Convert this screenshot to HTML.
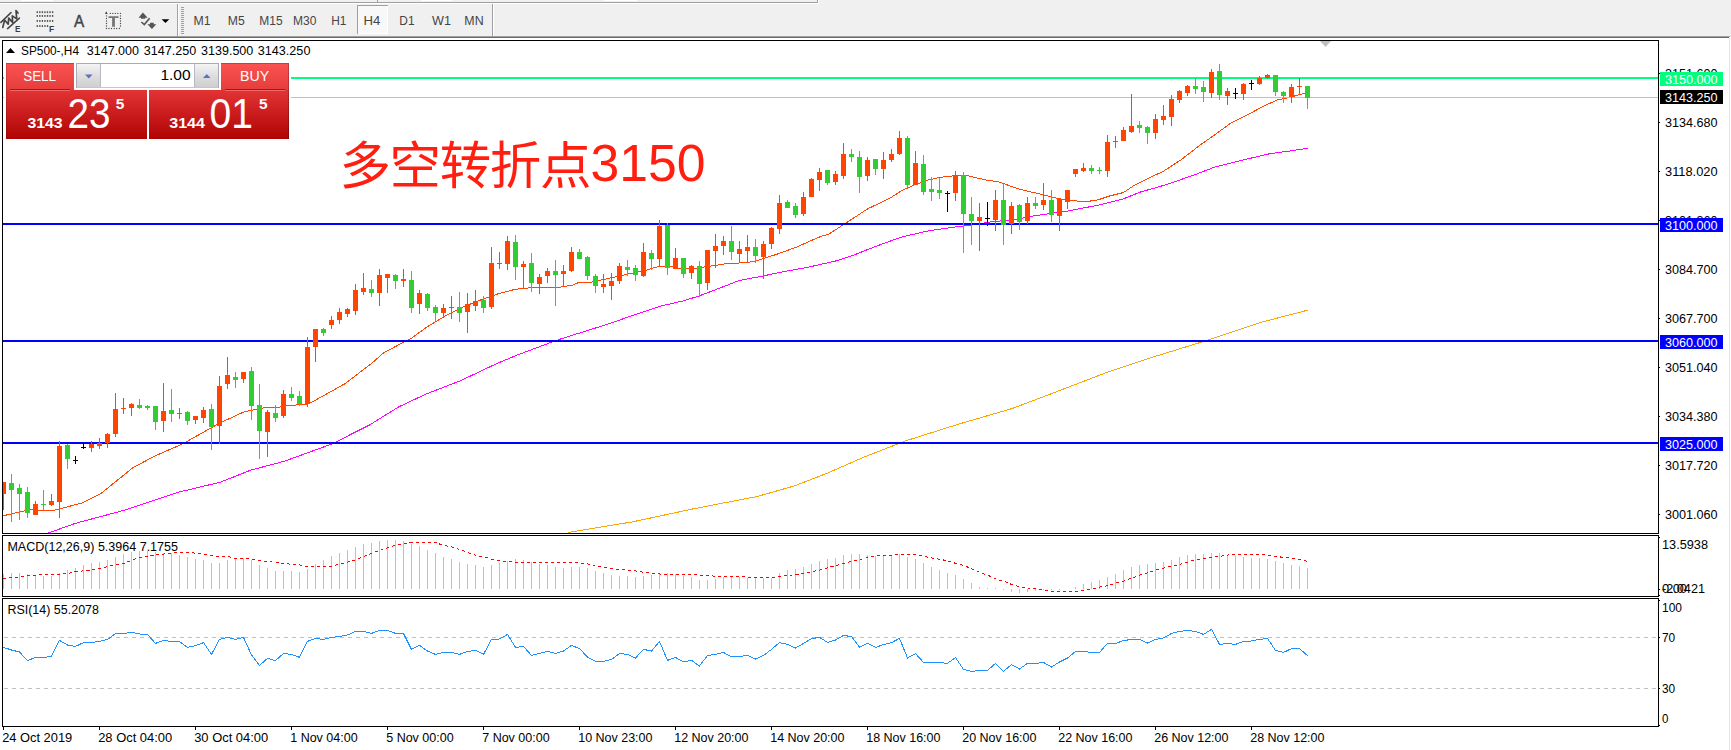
<!DOCTYPE html>
<html lang="zh"><head><meta charset="utf-8"><title>SP500-,H4</title>
<style>
html,body{margin:0;padding:0;background:#fff;}
body{width:1731px;height:750px;overflow:hidden;font-family:'Liberation Sans', sans-serif;}
svg{display:block;position:absolute;left:0;top:0;}
.t{font-family:'Liberation Sans', sans-serif;font-size:12.3px;fill:#000;}
.tb{font-family:'Liberation Sans', sans-serif;font-size:12px;fill:#454545;}
.ce{shape-rendering:crispEdges;}
</style></head><body>
<svg width="1731" height="750" viewBox="0 0 1731 750">
<defs>
<linearGradient id="gtab" x1="0" y1="0" x2="0" y2="1"><stop offset="0" stop-color="#fb5353"/><stop offset="1" stop-color="#e53b3b"/></linearGradient>
<linearGradient id="gbig" x1="0" y1="0" x2="0" y2="1"><stop offset="0" stop-color="#e23434"/><stop offset="1" stop-color="#b00303"/></linearGradient>
<linearGradient id="gspin" x1="0" y1="0" x2="0" y2="1"><stop offset="0" stop-color="#f4f4f4"/><stop offset="0.5" stop-color="#dedede"/><stop offset="1" stop-color="#cfcfcf"/></linearGradient>
</defs>
<rect x="0" y="0" width="1731" height="750" fill="#ffffff"/>

<g class="ce">
<rect x="0" y="0" width="1731" height="36" fill="#f0f0f0"/>
<rect x="0" y="36" width="1730" height="1" fill="#a0a0a0"/>
<rect x="0" y="37" width="1729" height="1" fill="#696969"/>
<rect x="1730" y="36" width="1" height="2" fill="#f0f0f0"/>
<rect x="1729" y="38" width="1" height="712" fill="#e3e3e3"/>
<rect x="21" y="0" width="32" height="1" fill="#ffffff"/>
<rect x="421" y="0" width="31" height="1" fill="#ffffff"/>
<rect x="604" y="0" width="33" height="1" fill="#ffffff"/>
<rect x="377" y="0" width="1" height="2" fill="#a0a0a0"/>
<rect x="0" y="2" width="818" height="1" fill="#a0a0a0"/>
<rect x="817" y="0" width="1" height="3" fill="#a0a0a0"/>
<rect x="0" y="3" width="819" height="1" fill="#ffffff"/>
<rect x="818" y="0" width="1" height="4" fill="#ffffff"/>
<rect x="177" y="4" width="1" height="32" fill="#a0a0a0"/><rect x="178" y="4" width="1" height="32" fill="#ffffff"/>
<rect x="492" y="4" width="1" height="32" fill="#a0a0a0"/><rect x="493" y="4" width="1" height="32" fill="#ffffff"/>
<rect x="181" y="7" width="3" height="1" fill="#a0a0a0"/>
<rect x="181" y="9" width="3" height="1" fill="#a0a0a0"/>
<rect x="181" y="11" width="3" height="1" fill="#a0a0a0"/>
<rect x="181" y="13" width="3" height="1" fill="#a0a0a0"/>
<rect x="181" y="15" width="3" height="1" fill="#a0a0a0"/>
<rect x="181" y="17" width="3" height="1" fill="#a0a0a0"/>
<rect x="181" y="19" width="3" height="1" fill="#a0a0a0"/>
<rect x="181" y="21" width="3" height="1" fill="#a0a0a0"/>
<rect x="181" y="23" width="3" height="1" fill="#a0a0a0"/>
<rect x="181" y="25" width="3" height="1" fill="#a0a0a0"/>
<rect x="181" y="27" width="3" height="1" fill="#a0a0a0"/>
<rect x="181" y="29" width="3" height="1" fill="#a0a0a0"/>
<rect x="181" y="31" width="3" height="1" fill="#a0a0a0"/>
<rect x="181" y="33" width="3" height="1" fill="#a0a0a0"/>
<rect x="357" y="5" width="31" height="29" fill="#f8f8f8"/>
<rect x="357" y="5" width="31" height="1" fill="#a0a0a0"/><rect x="357" y="5" width="1" height="29" fill="#a0a0a0"/>
<rect x="387" y="6" width="1" height="28" fill="#ffffff"/><rect x="358" y="33" width="30" height="1" fill="#ffffff"/>
</g>
<g fill="none" stroke="#454545" stroke-width="1.5" stroke-linecap="round" stroke-linejoin="round">
<path d="M0.9 22.4 L11 12.6"/><path d="M7.6 28.6 L19.4 18.1"/>
<path d="M2.8 27.4 L4.6 20 L8.2 24.2 L8.7 18.1 L12.6 22.4 L12.3 15.9 L16.7 18.9 L16 10.5 L18 13" stroke-width="1.7"/>
</g>
<text x="15.1" y="31.7" style="font-family:'Liberation Sans', sans-serif;font-size:9.6px;font-weight:bold" fill="#3c3c3c" textLength="5.4" lengthAdjust="spacingAndGlyphs">E</text>
<g fill="#555555">
<rect x="36.60" y="11.2" width="1.35" height="1.9"/>
<rect x="39.16" y="11.2" width="1.35" height="1.9"/>
<rect x="41.72" y="11.2" width="1.35" height="1.9"/>
<rect x="44.28" y="11.2" width="1.35" height="1.9"/>
<rect x="46.84" y="11.2" width="1.35" height="1.9"/>
<rect x="49.40" y="11.2" width="1.35" height="1.9"/>
<rect x="51.96" y="11.2" width="1.35" height="1.9"/>
<rect x="36.60" y="15" width="1.35" height="1.9"/>
<rect x="39.16" y="15" width="1.35" height="1.9"/>
<rect x="41.72" y="15" width="1.35" height="1.9"/>
<rect x="44.28" y="15" width="1.35" height="1.9"/>
<rect x="46.84" y="15" width="1.35" height="1.9"/>
<rect x="49.40" y="15" width="1.35" height="1.9"/>
<rect x="51.96" y="15" width="1.35" height="1.9"/>
<rect x="36.60" y="20" width="1.35" height="1.9"/>
<rect x="39.16" y="20" width="1.35" height="1.9"/>
<rect x="41.72" y="20" width="1.35" height="1.9"/>
<rect x="44.28" y="20" width="1.35" height="1.9"/>
<rect x="46.84" y="20" width="1.35" height="1.9"/>
<rect x="49.40" y="20" width="1.35" height="1.9"/>
<rect x="51.96" y="20" width="1.35" height="1.9"/>
<rect x="36.60" y="25.1" width="1.35" height="1.9"/>
<rect x="39.16" y="25.1" width="1.35" height="1.9"/>
<rect x="41.72" y="25.1" width="1.35" height="1.9"/>
<rect x="44.28" y="25.1" width="1.35" height="1.9"/>
<rect x="46.84" y="25.1" width="1.35" height="1.9"/>
</g>
<text x="49.1" y="31.7" style="font-family:'Liberation Sans', sans-serif;font-size:9.6px;font-weight:bold" fill="#3c3c3c" textLength="5.2" lengthAdjust="spacingAndGlyphs">F</text>
<text x="79" y="26.7" text-anchor="middle" style="font-family:'Liberation Sans', sans-serif;font-size:16.2px;font-weight:normal" fill="#444" stroke="#444" stroke-width="0.45" textLength="10.2" lengthAdjust="spacingAndGlyphs">A</text>
<g fill="#4a4a4a">
<circle cx="110.3" cy="13.4" r="0.66"/>
<circle cx="112.8" cy="13.4" r="0.66"/>
<circle cx="115.3" cy="13.4" r="0.66"/>
<circle cx="117.8" cy="13.4" r="0.66"/>
<circle cx="120.5" cy="13.4" r="0.66"/>
<circle cx="106.5" cy="28.5" r="0.66"/>
<circle cx="109" cy="28.5" r="0.66"/>
<circle cx="111.5" cy="28.5" r="0.66"/>
<circle cx="114.2" cy="28.5" r="0.66"/>
<circle cx="116.7" cy="28.5" r="0.66"/>
<circle cx="119.4" cy="28.5" r="0.66"/>
<circle cx="106.5" cy="15.9" r="0.66"/>
<circle cx="120.5" cy="15.9" r="0.66"/>
<circle cx="106.5" cy="18.5" r="0.66"/>
<circle cx="120.5" cy="18.5" r="0.66"/>
<circle cx="106.5" cy="21" r="0.66"/>
<circle cx="120.5" cy="21" r="0.66"/>
<circle cx="106.5" cy="23.5" r="0.66"/>
<circle cx="120.5" cy="23.5" r="0.66"/>
<circle cx="106.5" cy="26" r="0.66"/>
<circle cx="120.5" cy="26" r="0.66"/>
</g>
<path d="M104.9 13.9 L106.2 11.3 L107.8 13.9 Z" fill="#4a4a4a"/>
<path d="M108.5 16.2 H118.5 V18 H114.9 V26.7 H112.1 V18 H108.5 Z" fill="#767676"/>
<path d="M142.9 12.5 L147.6 17.7 L145.2 17.7 L145.2 18.8 L141 18.8 L141 17.7 L138.5 17.7 Z" fill="#555"/>
<path d="M151.9 29 L156.4 24.3 L153.8 24.3 L153.8 22.8 L150 22.8 L150 24.3 L147.4 24.3 Z" fill="#555"/>
<path d="M141.4 22 L144.3 24.5 L149.6 18.2" fill="none" stroke="#555" stroke-width="1.6"/>
<path d="M161.6 19.2 L169.3 19.2 L165.45 23.1 Z" fill="#000"/>
<text class="tb" x="193.6" y="25.3" textLength="17.0" lengthAdjust="spacingAndGlyphs">M1</text>
<text class="tb" x="227.8" y="25.3" textLength="16.9" lengthAdjust="spacingAndGlyphs">M5</text>
<text class="tb" x="259.3" y="25.3" textLength="23.3" lengthAdjust="spacingAndGlyphs">M15</text>
<text class="tb" x="293.0" y="25.3" textLength="23.4" lengthAdjust="spacingAndGlyphs">M30</text>
<text class="tb" x="331.2" y="25.3" textLength="15.2" lengthAdjust="spacingAndGlyphs">H1</text>
<text class="tb" x="363.4" y="25.3" textLength="16.8" lengthAdjust="spacingAndGlyphs">H4</text>
<text class="tb" x="399.3" y="25.3" textLength="15.2" lengthAdjust="spacingAndGlyphs">D1</text>
<text class="tb" x="432.0" y="25.3" textLength="18.9" lengthAdjust="spacingAndGlyphs">W1</text>
<text class="tb" x="464.3" y="25.3" textLength="19.3" lengthAdjust="spacingAndGlyphs">MN</text>
<g class="ce" fill="#000">
<rect x="2" y="40" width="1657" height="1"/>
<rect x="2" y="533" width="1657" height="1"/>
<rect x="2" y="40" width="1" height="494"/>
<rect x="1658" y="40" width="1" height="494"/>
<rect x="2" y="535" width="1657" height="1"/>
<rect x="2" y="596" width="1657" height="1"/>
<rect x="2" y="535" width="1" height="62"/>
<rect x="1658" y="535" width="1" height="62"/>
<rect x="2" y="598" width="1657" height="1"/>
<rect x="2" y="726" width="1657" height="1"/>
<rect x="2" y="598" width="1" height="129"/>
<rect x="1658" y="598" width="1" height="129"/>
<rect x="1659" y="725" width="1" height="1"/>
</g>
<path d="M1320 41 L1331 41 L1325.5 47 Z" fill="#c0c0c0"/>
<clipPath id="cm"><rect x="3" y="41" width="1655" height="492"/></clipPath><clipPath id="cma"><rect x="3" y="41" width="1305" height="492"/></clipPath>
<g clip-path="url(#cma)">
<polyline class="ce" points="568.2,532.4 632.9,521.8 693.0,508.9 757.7,496.4 794.7,485.8 827.0,473.3 864.0,457.1 905.6,440.9 956.4,424.8 1011.9,408.6 1048.8,394.7 1108.9,371.6 1155.1,356.4 1206.0,340.7 1261.4,322.2 1307.6,310.2" fill="none" stroke="#ffa500" stroke-width="1" />
<polyline class="ce" points="2.5,543.0 47.9,533.1 75.5,523.3 125.5,509.9 179.2,492.0 220.3,482.2 250.9,470.1 284.8,461.1 331.3,444.2 368.8,425.4 399.2,406.6 426.0,394.1 460.5,380.7 496.5,363.7 517.1,355.1 552.8,341.7 560.5,339.0 609.3,323.7 633.4,315.1 662.0,305.8 683.5,300.8 699.5,295.8 719.2,288.3 738.9,280.6 763.9,275.8 780.5,272.2 808.7,267.1 836.5,260.8 855.2,254.5 876.7,246.0 901.7,237.0 928.5,230.8 957.1,226.7 974.9,224.5 991.0,221.9 1000.5,221.0 1016.2,219.3 1034.1,215.8 1066.3,211.3 1098.4,205.1 1123.5,198.8 1141.3,191.7 1159.2,186.8 1177.1,180.9 1194.9,174.7 1214.9,167.0 1243.5,159.9 1270.3,153.6 1289.9,151.0 1307.5,148.3" fill="none" stroke="#ff00ff" stroke-width="1" />
<polyline class="ce" points="3.5,515.7 33.2,508.9 36.5,509.6 40.6,510.5 53.3,510.5 82.7,502.8 100.5,493.8 132.7,467.9 154.2,456.3 182.8,443.8 211.4,427.7 220.5,422.7 243.7,412.0 265.2,407.5 279.5,407.2 288.4,405.4 306.3,404.5 313.4,401.3 345.5,383.4 361.7,370.9 371.4,363.7 383.0,353.3 402.7,342.6 411.6,338.1 427.7,326.5 445.6,315.8 463.5,306.8 481.3,299.7 499.2,293.4 515.3,289.3 526.0,288.1 540.5,287.4 558.4,287.4 572.7,285.2 578.9,282.4 592.3,282.0 612.0,277.6 629.9,273.6 644.1,270.8 658.4,266.5 672.7,266.5 676.3,268.1 696.0,268.1 712.1,265.9 728.1,263.3 742.4,262.9 754.9,261.5 765.7,257.9 778.4,253.7 796.2,247.2 821.3,236.2 828.4,234.4 846.3,222.8 867.7,208.8 889.2,198.6 901.7,190.6 916.0,184.3 928.5,179.9 941.0,177.2 953.5,175.9 967.8,175.8 985.7,179.9 998.4,181.8 1019.8,189.3 1041.3,194.3 1059.1,198.8 1080.5,201.5 1087.5,201.5 1098.4,199.7 1109.2,196.1 1123.5,192.5 1134.2,185.4 1148.5,178.2 1163.0,171.5 1180.9,159.9 1200.6,144.7 1218.4,132.2 1230.9,122.9 1252.4,112.2 1264.9,105.4 1277.4,100.0 1289.9,97.4 1298.9,94.7 1307.5,92.9" fill="none" stroke="#ff4500" stroke-width="1" />
</g>
<g class="ce">
<rect x="291" y="77" width="1367" height="2" fill="#00ff7f"/>
<rect x="3" y="77" width="1" height="2" fill="#00ff7f"/>
<rect x="291" y="97" width="1367" height="1" fill="#c0c0c0"/>
<rect x="3" y="97" width="1" height="1" fill="#c0c0c0"/>
<rect x="3" y="223" width="1655" height="2" fill="#0000ff"/>
<rect x="3" y="340" width="1655" height="2" fill="#0000ff"/>
<rect x="3" y="442" width="1655" height="2" fill="#0000ff"/>
</g>
<g class="ce" clip-path="url(#cm)">
<rect x="3" y="482" width="1" height="28" fill="#ff4500"/>
<rect x="1" y="482" width="5" height="12" fill="#ff4500"/>
<rect x="11" y="474" width="1" height="48" fill="#32cd32"/>
<rect x="9" y="483" width="5" height="7" fill="#32cd32"/>
<rect x="19" y="484" width="1" height="36" fill="#32cd32"/>
<rect x="17" y="488" width="5" height="6" fill="#32cd32"/>
<rect x="27" y="487" width="1" height="31" fill="#32cd32"/>
<rect x="25" y="492" width="5" height="21" fill="#32cd32"/>
<rect x="35" y="501" width="1" height="14" fill="#ff4500"/>
<rect x="33" y="504" width="5" height="11" fill="#ff4500"/>
<rect x="43" y="490" width="1" height="20" fill="#32cd32"/>
<rect x="41" y="504" width="5" height="1" fill="#32cd32"/>
<rect x="51" y="494" width="1" height="12" fill="#ff4500"/>
<rect x="49" y="501" width="5" height="4" fill="#ff4500"/>
<rect x="59" y="441" width="1" height="77" fill="#ff4500"/>
<rect x="57" y="446" width="5" height="56" fill="#ff4500"/>
<rect x="67" y="444" width="1" height="25" fill="#32cd32"/>
<rect x="65" y="445" width="5" height="14" fill="#32cd32"/>
<rect x="75" y="456" width="1" height="8" fill="#000000"/>
<rect x="73" y="460" width="5" height="1" fill="#000000"/>
<rect x="83" y="443" width="1" height="6" fill="#000000"/>
<rect x="81" y="447" width="5" height="1" fill="#000000"/>
<rect x="91" y="441" width="1" height="11" fill="#ff4500"/>
<rect x="89" y="444" width="5" height="4" fill="#ff4500"/>
<rect x="99" y="438" width="1" height="11" fill="#ff4500"/>
<rect x="97" y="443" width="5" height="3" fill="#ff4500"/>
<rect x="107" y="433" width="1" height="15" fill="#ff4500"/>
<rect x="105" y="434" width="5" height="9" fill="#ff4500"/>
<rect x="115" y="393" width="1" height="44" fill="#ff4500"/>
<rect x="113" y="409" width="5" height="25" fill="#ff4500"/>
<rect x="123" y="398" width="1" height="16" fill="#ff4500"/>
<rect x="121" y="408" width="5" height="1" fill="#ff4500"/>
<rect x="131" y="403" width="1" height="13" fill="#ff4500"/>
<rect x="129" y="404" width="5" height="4" fill="#ff4500"/>
<rect x="139" y="399" width="1" height="10" fill="#32cd32"/>
<rect x="137" y="405" width="5" height="3" fill="#32cd32"/>
<rect x="147" y="405" width="1" height="5" fill="#32cd32"/>
<rect x="145" y="406" width="5" height="2" fill="#32cd32"/>
<rect x="155" y="406" width="1" height="24" fill="#32cd32"/>
<rect x="153" y="406" width="5" height="16" fill="#32cd32"/>
<rect x="163" y="383" width="1" height="49" fill="#ff4500"/>
<rect x="161" y="411" width="5" height="10" fill="#ff4500"/>
<rect x="171" y="389" width="1" height="33" fill="#32cd32"/>
<rect x="169" y="410" width="5" height="4" fill="#32cd32"/>
<rect x="179" y="408" width="1" height="11" fill="#ff4500"/>
<rect x="177" y="413" width="5" height="1" fill="#ff4500"/>
<rect x="187" y="411" width="1" height="14" fill="#32cd32"/>
<rect x="185" y="412" width="5" height="9" fill="#32cd32"/>
<rect x="195" y="416" width="1" height="8" fill="#ff4500"/>
<rect x="193" y="416" width="5" height="4" fill="#ff4500"/>
<rect x="203" y="407" width="1" height="16" fill="#ff4500"/>
<rect x="201" y="410" width="5" height="8" fill="#ff4500"/>
<rect x="211" y="404" width="1" height="46" fill="#32cd32"/>
<rect x="209" y="409" width="5" height="18" fill="#32cd32"/>
<rect x="219" y="376" width="1" height="68" fill="#ff4500"/>
<rect x="217" y="386" width="5" height="40" fill="#ff4500"/>
<rect x="227" y="357" width="1" height="32" fill="#ff4500"/>
<rect x="225" y="375" width="5" height="9" fill="#ff4500"/>
<rect x="235" y="372" width="1" height="16" fill="#32cd32"/>
<rect x="233" y="377" width="5" height="3" fill="#32cd32"/>
<rect x="243" y="372" width="1" height="11" fill="#ff4500"/>
<rect x="241" y="372" width="5" height="7" fill="#ff4500"/>
<rect x="251" y="367" width="1" height="53" fill="#32cd32"/>
<rect x="249" y="371" width="5" height="35" fill="#32cd32"/>
<rect x="259" y="384" width="1" height="75" fill="#32cd32"/>
<rect x="257" y="405" width="5" height="26" fill="#32cd32"/>
<rect x="267" y="410" width="1" height="47" fill="#ff4500"/>
<rect x="265" y="412" width="5" height="20" fill="#ff4500"/>
<rect x="275" y="405" width="1" height="17" fill="#32cd32"/>
<rect x="273" y="413" width="5" height="5" fill="#32cd32"/>
<rect x="283" y="390" width="1" height="28" fill="#ff4500"/>
<rect x="281" y="394" width="5" height="22" fill="#ff4500"/>
<rect x="291" y="387" width="1" height="14" fill="#32cd32"/>
<rect x="289" y="394" width="5" height="4" fill="#32cd32"/>
<rect x="299" y="391" width="1" height="15" fill="#32cd32"/>
<rect x="297" y="396" width="5" height="8" fill="#32cd32"/>
<rect x="307" y="337" width="1" height="70" fill="#ff4500"/>
<rect x="305" y="347" width="5" height="57" fill="#ff4500"/>
<rect x="315" y="329" width="1" height="33" fill="#ff4500"/>
<rect x="313" y="329" width="5" height="18" fill="#ff4500"/>
<rect x="323" y="328" width="1" height="8" fill="#32cd32"/>
<rect x="321" y="329" width="5" height="4" fill="#32cd32"/>
<rect x="331" y="316" width="1" height="13" fill="#ff4500"/>
<rect x="329" y="320" width="5" height="5" fill="#ff4500"/>
<rect x="339" y="308" width="1" height="16" fill="#ff4500"/>
<rect x="337" y="312" width="5" height="8" fill="#ff4500"/>
<rect x="347" y="308" width="1" height="9" fill="#ff4500"/>
<rect x="345" y="309" width="5" height="5" fill="#ff4500"/>
<rect x="355" y="284" width="1" height="31" fill="#ff4500"/>
<rect x="353" y="290" width="5" height="21" fill="#ff4500"/>
<rect x="363" y="273" width="1" height="22" fill="#ff4500"/>
<rect x="361" y="288" width="5" height="4" fill="#ff4500"/>
<rect x="371" y="280" width="1" height="17" fill="#32cd32"/>
<rect x="369" y="289" width="5" height="4" fill="#32cd32"/>
<rect x="379" y="269" width="1" height="37" fill="#ff4500"/>
<rect x="377" y="275" width="5" height="18" fill="#ff4500"/>
<rect x="387" y="274" width="1" height="19" fill="#ff4500"/>
<rect x="385" y="274" width="5" height="4" fill="#ff4500"/>
<rect x="395" y="274" width="1" height="15" fill="#32cd32"/>
<rect x="393" y="275" width="5" height="6" fill="#32cd32"/>
<rect x="403" y="269" width="1" height="18" fill="#ff4500"/>
<rect x="401" y="279" width="5" height="2" fill="#ff4500"/>
<rect x="411" y="271" width="1" height="42" fill="#32cd32"/>
<rect x="409" y="280" width="5" height="28" fill="#32cd32"/>
<rect x="419" y="290" width="1" height="24" fill="#ff4500"/>
<rect x="417" y="293" width="5" height="11" fill="#ff4500"/>
<rect x="427" y="293" width="1" height="18" fill="#32cd32"/>
<rect x="425" y="294" width="5" height="14" fill="#32cd32"/>
<rect x="435" y="305" width="1" height="16" fill="#32cd32"/>
<rect x="433" y="307" width="5" height="6" fill="#32cd32"/>
<rect x="443" y="304" width="1" height="12" fill="#ff4500"/>
<rect x="441" y="308" width="5" height="5" fill="#ff4500"/>
<rect x="451" y="296" width="1" height="23" fill="#ff4500"/>
<rect x="449" y="307" width="5" height="1" fill="#ff4500"/>
<rect x="459" y="292" width="1" height="30" fill="#32cd32"/>
<rect x="457" y="307" width="5" height="6" fill="#32cd32"/>
<rect x="467" y="293" width="1" height="40" fill="#ff4500"/>
<rect x="465" y="304" width="5" height="8" fill="#ff4500"/>
<rect x="475" y="290" width="1" height="21" fill="#ff4500"/>
<rect x="473" y="301" width="5" height="5" fill="#ff4500"/>
<rect x="483" y="296" width="1" height="17" fill="#32cd32"/>
<rect x="481" y="300" width="5" height="8" fill="#32cd32"/>
<rect x="491" y="247" width="1" height="62" fill="#ff4500"/>
<rect x="489" y="263" width="5" height="44" fill="#ff4500"/>
<rect x="499" y="252" width="1" height="17" fill="#ff4500"/>
<rect x="497" y="263" width="5" height="1" fill="#ff4500"/>
<rect x="507" y="236" width="1" height="34" fill="#ff4500"/>
<rect x="505" y="241" width="5" height="23" fill="#ff4500"/>
<rect x="515" y="235" width="1" height="45" fill="#32cd32"/>
<rect x="513" y="242" width="5" height="25" fill="#32cd32"/>
<rect x="523" y="261" width="1" height="27" fill="#ff4500"/>
<rect x="521" y="264" width="5" height="3" fill="#ff4500"/>
<rect x="531" y="253" width="1" height="39" fill="#32cd32"/>
<rect x="529" y="263" width="5" height="20" fill="#32cd32"/>
<rect x="539" y="274" width="1" height="20" fill="#ff4500"/>
<rect x="537" y="277" width="5" height="7" fill="#ff4500"/>
<rect x="547" y="268" width="1" height="15" fill="#ff4500"/>
<rect x="545" y="271" width="5" height="5" fill="#ff4500"/>
<rect x="555" y="260" width="1" height="46" fill="#32cd32"/>
<rect x="553" y="271" width="5" height="4" fill="#32cd32"/>
<rect x="563" y="265" width="1" height="21" fill="#ff4500"/>
<rect x="561" y="271" width="5" height="3" fill="#ff4500"/>
<rect x="571" y="247" width="1" height="25" fill="#ff4500"/>
<rect x="569" y="252" width="5" height="19" fill="#ff4500"/>
<rect x="579" y="249" width="1" height="10" fill="#32cd32"/>
<rect x="577" y="252" width="5" height="7" fill="#32cd32"/>
<rect x="587" y="256" width="1" height="24" fill="#32cd32"/>
<rect x="585" y="257" width="5" height="19" fill="#32cd32"/>
<rect x="595" y="274" width="1" height="19" fill="#32cd32"/>
<rect x="593" y="276" width="5" height="10" fill="#32cd32"/>
<rect x="603" y="274" width="1" height="19" fill="#ff4500"/>
<rect x="601" y="284" width="5" height="3" fill="#ff4500"/>
<rect x="611" y="273" width="1" height="27" fill="#ff4500"/>
<rect x="609" y="281" width="5" height="5" fill="#ff4500"/>
<rect x="619" y="263" width="1" height="21" fill="#ff4500"/>
<rect x="617" y="266" width="5" height="15" fill="#ff4500"/>
<rect x="627" y="260" width="1" height="16" fill="#32cd32"/>
<rect x="625" y="267" width="5" height="3" fill="#32cd32"/>
<rect x="635" y="265" width="1" height="16" fill="#32cd32"/>
<rect x="633" y="268" width="5" height="7" fill="#32cd32"/>
<rect x="643" y="243" width="1" height="34" fill="#ff4500"/>
<rect x="641" y="252" width="5" height="24" fill="#ff4500"/>
<rect x="651" y="250" width="1" height="20" fill="#32cd32"/>
<rect x="649" y="253" width="5" height="6" fill="#32cd32"/>
<rect x="659" y="220" width="1" height="47" fill="#ff4500"/>
<rect x="657" y="226" width="5" height="33" fill="#ff4500"/>
<rect x="667" y="223" width="1" height="52" fill="#32cd32"/>
<rect x="665" y="225" width="5" height="43" fill="#32cd32"/>
<rect x="675" y="248" width="1" height="21" fill="#ff4500"/>
<rect x="673" y="258" width="5" height="11" fill="#ff4500"/>
<rect x="683" y="258" width="1" height="20" fill="#32cd32"/>
<rect x="681" y="258" width="5" height="16" fill="#32cd32"/>
<rect x="691" y="265" width="1" height="14" fill="#ff4500"/>
<rect x="689" y="266" width="5" height="7" fill="#ff4500"/>
<rect x="699" y="261" width="1" height="36" fill="#32cd32"/>
<rect x="697" y="266" width="5" height="18" fill="#32cd32"/>
<rect x="707" y="250" width="1" height="40" fill="#ff4500"/>
<rect x="705" y="250" width="5" height="33" fill="#ff4500"/>
<rect x="715" y="234" width="1" height="34" fill="#ff4500"/>
<rect x="713" y="246" width="5" height="5" fill="#ff4500"/>
<rect x="723" y="236" width="1" height="19" fill="#ff4500"/>
<rect x="721" y="241" width="5" height="5" fill="#ff4500"/>
<rect x="731" y="226" width="1" height="34" fill="#32cd32"/>
<rect x="729" y="241" width="5" height="11" fill="#32cd32"/>
<rect x="739" y="241" width="1" height="21" fill="#ff4500"/>
<rect x="737" y="249" width="5" height="5" fill="#ff4500"/>
<rect x="747" y="235" width="1" height="27" fill="#ff4500"/>
<rect x="745" y="247" width="5" height="4" fill="#ff4500"/>
<rect x="755" y="239" width="1" height="24" fill="#32cd32"/>
<rect x="753" y="247" width="5" height="9" fill="#32cd32"/>
<rect x="763" y="241" width="1" height="38" fill="#ff4500"/>
<rect x="761" y="244" width="5" height="13" fill="#ff4500"/>
<rect x="771" y="227" width="1" height="22" fill="#ff4500"/>
<rect x="769" y="228" width="5" height="16" fill="#ff4500"/>
<rect x="779" y="195" width="1" height="39" fill="#ff4500"/>
<rect x="777" y="203" width="5" height="26" fill="#ff4500"/>
<rect x="787" y="200" width="1" height="8" fill="#32cd32"/>
<rect x="785" y="202" width="5" height="6" fill="#32cd32"/>
<rect x="795" y="203" width="1" height="15" fill="#32cd32"/>
<rect x="793" y="206" width="5" height="9" fill="#32cd32"/>
<rect x="803" y="192" width="1" height="24" fill="#ff4500"/>
<rect x="801" y="197" width="5" height="17" fill="#ff4500"/>
<rect x="811" y="178" width="1" height="19" fill="#ff4500"/>
<rect x="809" y="179" width="5" height="18" fill="#ff4500"/>
<rect x="819" y="168" width="1" height="23" fill="#ff4500"/>
<rect x="817" y="172" width="5" height="8" fill="#ff4500"/>
<rect x="827" y="170" width="1" height="15" fill="#32cd32"/>
<rect x="825" y="170" width="5" height="13" fill="#32cd32"/>
<rect x="835" y="171" width="1" height="14" fill="#ff4500"/>
<rect x="833" y="174" width="5" height="8" fill="#ff4500"/>
<rect x="843" y="143" width="1" height="36" fill="#ff4500"/>
<rect x="841" y="154" width="5" height="22" fill="#ff4500"/>
<rect x="851" y="149" width="1" height="13" fill="#32cd32"/>
<rect x="849" y="154" width="5" height="3" fill="#32cd32"/>
<rect x="859" y="151" width="1" height="42" fill="#32cd32"/>
<rect x="857" y="157" width="5" height="20" fill="#32cd32"/>
<rect x="867" y="157" width="1" height="24" fill="#ff4500"/>
<rect x="865" y="160" width="5" height="16" fill="#ff4500"/>
<rect x="875" y="159" width="1" height="16" fill="#32cd32"/>
<rect x="873" y="159" width="5" height="10" fill="#32cd32"/>
<rect x="883" y="152" width="1" height="27" fill="#ff4500"/>
<rect x="881" y="160" width="5" height="9" fill="#ff4500"/>
<rect x="891" y="149" width="1" height="13" fill="#ff4500"/>
<rect x="889" y="154" width="5" height="6" fill="#ff4500"/>
<rect x="899" y="131" width="1" height="24" fill="#ff4500"/>
<rect x="897" y="138" width="5" height="16" fill="#ff4500"/>
<rect x="907" y="136" width="1" height="52" fill="#32cd32"/>
<rect x="905" y="138" width="5" height="47" fill="#32cd32"/>
<rect x="915" y="151" width="1" height="34" fill="#ff4500"/>
<rect x="913" y="163" width="5" height="22" fill="#ff4500"/>
<rect x="923" y="155" width="1" height="40" fill="#32cd32"/>
<rect x="921" y="164" width="5" height="28" fill="#32cd32"/>
<rect x="931" y="177" width="1" height="24" fill="#32cd32"/>
<rect x="929" y="189" width="5" height="3" fill="#32cd32"/>
<rect x="939" y="178" width="1" height="21" fill="#32cd32"/>
<rect x="937" y="190" width="5" height="3" fill="#32cd32"/>
<rect x="947" y="191" width="1" height="21" fill="#000000"/>
<rect x="945" y="193" width="5" height="1" fill="#000000"/>
<rect x="955" y="171" width="1" height="30" fill="#ff4500"/>
<rect x="953" y="175" width="5" height="18" fill="#ff4500"/>
<rect x="963" y="172" width="1" height="81" fill="#32cd32"/>
<rect x="961" y="175" width="5" height="39" fill="#32cd32"/>
<rect x="971" y="197" width="1" height="48" fill="#32cd32"/>
<rect x="969" y="214" width="5" height="7" fill="#32cd32"/>
<rect x="979" y="203" width="1" height="48" fill="#ff4500"/>
<rect x="977" y="217" width="5" height="4" fill="#ff4500"/>
<rect x="987" y="202" width="1" height="24" fill="#000000"/>
<rect x="985" y="218" width="5" height="1" fill="#000000"/>
<rect x="995" y="190" width="1" height="41" fill="#ff4500"/>
<rect x="993" y="200" width="5" height="20" fill="#ff4500"/>
<rect x="1003" y="184" width="1" height="61" fill="#32cd32"/>
<rect x="1001" y="200" width="5" height="25" fill="#32cd32"/>
<rect x="1011" y="202" width="1" height="32" fill="#ff4500"/>
<rect x="1009" y="206" width="5" height="18" fill="#ff4500"/>
<rect x="1019" y="204" width="1" height="26" fill="#32cd32"/>
<rect x="1017" y="205" width="5" height="17" fill="#32cd32"/>
<rect x="1027" y="197" width="1" height="27" fill="#ff4500"/>
<rect x="1025" y="203" width="5" height="18" fill="#ff4500"/>
<rect x="1035" y="197" width="1" height="12" fill="#32cd32"/>
<rect x="1033" y="203" width="5" height="3" fill="#32cd32"/>
<rect x="1043" y="183" width="1" height="27" fill="#ff4500"/>
<rect x="1041" y="200" width="5" height="5" fill="#ff4500"/>
<rect x="1051" y="190" width="1" height="32" fill="#32cd32"/>
<rect x="1049" y="200" width="5" height="15" fill="#32cd32"/>
<rect x="1059" y="198" width="1" height="33" fill="#ff4500"/>
<rect x="1057" y="199" width="5" height="17" fill="#ff4500"/>
<rect x="1067" y="190" width="1" height="19" fill="#ff4500"/>
<rect x="1065" y="190" width="5" height="12" fill="#ff4500"/>
<rect x="1075" y="169" width="1" height="8" fill="#ff4500"/>
<rect x="1073" y="169" width="5" height="5" fill="#ff4500"/>
<rect x="1083" y="163" width="1" height="9" fill="#ff4500"/>
<rect x="1081" y="168" width="5" height="3" fill="#ff4500"/>
<rect x="1091" y="165" width="1" height="9" fill="#32cd32"/>
<rect x="1089" y="168" width="5" height="3" fill="#32cd32"/>
<rect x="1099" y="167" width="1" height="7" fill="#32cd32"/>
<rect x="1097" y="170" width="5" height="1" fill="#32cd32"/>
<rect x="1107" y="135" width="1" height="42" fill="#ff4500"/>
<rect x="1105" y="142" width="5" height="29" fill="#ff4500"/>
<rect x="1115" y="136" width="1" height="12" fill="#ff4500"/>
<rect x="1113" y="141" width="5" height="1" fill="#ff4500"/>
<rect x="1123" y="127" width="1" height="14" fill="#ff4500"/>
<rect x="1121" y="130" width="5" height="11" fill="#ff4500"/>
<rect x="1131" y="94" width="1" height="39" fill="#ff4500"/>
<rect x="1129" y="126" width="5" height="6" fill="#ff4500"/>
<rect x="1139" y="121" width="1" height="12" fill="#32cd32"/>
<rect x="1137" y="125" width="5" height="3" fill="#32cd32"/>
<rect x="1147" y="126" width="1" height="18" fill="#32cd32"/>
<rect x="1145" y="127" width="5" height="6" fill="#32cd32"/>
<rect x="1155" y="114" width="1" height="25" fill="#ff4500"/>
<rect x="1153" y="119" width="5" height="14" fill="#ff4500"/>
<rect x="1163" y="105" width="1" height="20" fill="#ff4500"/>
<rect x="1161" y="116" width="5" height="4" fill="#ff4500"/>
<rect x="1171" y="95" width="1" height="31" fill="#ff4500"/>
<rect x="1169" y="99" width="5" height="18" fill="#ff4500"/>
<rect x="1179" y="90" width="1" height="13" fill="#ff4500"/>
<rect x="1177" y="91" width="5" height="9" fill="#ff4500"/>
<rect x="1187" y="85" width="1" height="11" fill="#ff4500"/>
<rect x="1185" y="86" width="5" height="7" fill="#ff4500"/>
<rect x="1195" y="78" width="1" height="16" fill="#32cd32"/>
<rect x="1193" y="86" width="5" height="3" fill="#32cd32"/>
<rect x="1203" y="81" width="1" height="21" fill="#32cd32"/>
<rect x="1201" y="87" width="5" height="5" fill="#32cd32"/>
<rect x="1211" y="69" width="1" height="29" fill="#ff4500"/>
<rect x="1209" y="72" width="5" height="21" fill="#ff4500"/>
<rect x="1219" y="64" width="1" height="36" fill="#32cd32"/>
<rect x="1217" y="71" width="5" height="24" fill="#32cd32"/>
<rect x="1227" y="88" width="1" height="17" fill="#ff4500"/>
<rect x="1225" y="91" width="5" height="5" fill="#ff4500"/>
<rect x="1235" y="88" width="1" height="11" fill="#000000"/>
<rect x="1233" y="93" width="5" height="1" fill="#000000"/>
<rect x="1243" y="83" width="1" height="17" fill="#ff4500"/>
<rect x="1241" y="84" width="5" height="10" fill="#ff4500"/>
<rect x="1251" y="80" width="1" height="10" fill="#000000"/>
<rect x="1249" y="83" width="5" height="1" fill="#000000"/>
<rect x="1259" y="76" width="1" height="9" fill="#ff4500"/>
<rect x="1257" y="78" width="5" height="6" fill="#ff4500"/>
<rect x="1267" y="74" width="1" height="5" fill="#ff4500"/>
<rect x="1265" y="75" width="5" height="3" fill="#ff4500"/>
<rect x="1275" y="75" width="1" height="21" fill="#32cd32"/>
<rect x="1273" y="75" width="5" height="17" fill="#32cd32"/>
<rect x="1283" y="91" width="1" height="12" fill="#32cd32"/>
<rect x="1281" y="92" width="5" height="4" fill="#32cd32"/>
<rect x="1291" y="84" width="1" height="19" fill="#ff4500"/>
<rect x="1289" y="87" width="5" height="10" fill="#ff4500"/>
<rect x="1299" y="78" width="1" height="16" fill="#ff4500"/>
<rect x="1297" y="86" width="5" height="1" fill="#ff4500"/>
<rect x="1307" y="86" width="1" height="23" fill="#32cd32"/>
<rect x="1305" y="86" width="5" height="12" fill="#32cd32"/>
</g>
<g class="ce" fill="#c0c0c0">
<rect x="3" y="574" width="1" height="15"/>
<rect x="11" y="573" width="1" height="16"/>
<rect x="19" y="573" width="1" height="16"/>
<rect x="27" y="574" width="1" height="15"/>
<rect x="35" y="575" width="1" height="14"/>
<rect x="43" y="576" width="1" height="13"/>
<rect x="51" y="576" width="1" height="13"/>
<rect x="59" y="573" width="1" height="16"/>
<rect x="67" y="570" width="1" height="19"/>
<rect x="75" y="568" width="1" height="21"/>
<rect x="83" y="565" width="1" height="24"/>
<rect x="91" y="563" width="1" height="26"/>
<rect x="99" y="562" width="1" height="27"/>
<rect x="107" y="560" width="1" height="29"/>
<rect x="115" y="557" width="1" height="32"/>
<rect x="123" y="554" width="1" height="35"/>
<rect x="131" y="552" width="1" height="37"/>
<rect x="139" y="551" width="1" height="38"/>
<rect x="147" y="551" width="1" height="38"/>
<rect x="155" y="552" width="1" height="37"/>
<rect x="163" y="553" width="1" height="36"/>
<rect x="171" y="553" width="1" height="36"/>
<rect x="179" y="555" width="1" height="34"/>
<rect x="187" y="557" width="1" height="32"/>
<rect x="195" y="559" width="1" height="30"/>
<rect x="203" y="560" width="1" height="29"/>
<rect x="211" y="563" width="1" height="26"/>
<rect x="219" y="563" width="1" height="26"/>
<rect x="227" y="560" width="1" height="29"/>
<rect x="235" y="559" width="1" height="30"/>
<rect x="243" y="558" width="1" height="31"/>
<rect x="251" y="560" width="1" height="29"/>
<rect x="259" y="565" width="1" height="24"/>
<rect x="267" y="568" width="1" height="21"/>
<rect x="275" y="571" width="1" height="18"/>
<rect x="283" y="571" width="1" height="18"/>
<rect x="291" y="571" width="1" height="18"/>
<rect x="299" y="572" width="1" height="17"/>
<rect x="307" y="569" width="1" height="20"/>
<rect x="315" y="564" width="1" height="25"/>
<rect x="323" y="560" width="1" height="29"/>
<rect x="331" y="556" width="1" height="33"/>
<rect x="339" y="553" width="1" height="36"/>
<rect x="347" y="550" width="1" height="39"/>
<rect x="355" y="547" width="1" height="42"/>
<rect x="363" y="544" width="1" height="45"/>
<rect x="371" y="543" width="1" height="46"/>
<rect x="379" y="541" width="1" height="48"/>
<rect x="387" y="540" width="1" height="49"/>
<rect x="395" y="540" width="1" height="49"/>
<rect x="403" y="541" width="1" height="48"/>
<rect x="411" y="544" width="1" height="45"/>
<rect x="419" y="546" width="1" height="43"/>
<rect x="427" y="550" width="1" height="39"/>
<rect x="435" y="553" width="1" height="36"/>
<rect x="443" y="557" width="1" height="32"/>
<rect x="451" y="559" width="1" height="30"/>
<rect x="459" y="562" width="1" height="27"/>
<rect x="467" y="564" width="1" height="25"/>
<rect x="475" y="565" width="1" height="24"/>
<rect x="483" y="567" width="1" height="22"/>
<rect x="491" y="565" width="1" height="24"/>
<rect x="499" y="563" width="1" height="26"/>
<rect x="507" y="561" width="1" height="28"/>
<rect x="515" y="559" width="1" height="30"/>
<rect x="523" y="560" width="1" height="29"/>
<rect x="531" y="562" width="1" height="27"/>
<rect x="539" y="564" width="1" height="25"/>
<rect x="547" y="565" width="1" height="24"/>
<rect x="555" y="567" width="1" height="22"/>
<rect x="563" y="568" width="1" height="21"/>
<rect x="571" y="567" width="1" height="22"/>
<rect x="579" y="567" width="1" height="22"/>
<rect x="587" y="568" width="1" height="21"/>
<rect x="595" y="571" width="1" height="18"/>
<rect x="603" y="573" width="1" height="16"/>
<rect x="611" y="575" width="1" height="14"/>
<rect x="619" y="576" width="1" height="13"/>
<rect x="627" y="576" width="1" height="13"/>
<rect x="635" y="577" width="1" height="12"/>
<rect x="643" y="576" width="1" height="13"/>
<rect x="651" y="575" width="1" height="14"/>
<rect x="659" y="574" width="1" height="15"/>
<rect x="667" y="573" width="1" height="16"/>
<rect x="675" y="574" width="1" height="15"/>
<rect x="683" y="576" width="1" height="13"/>
<rect x="691" y="577" width="1" height="12"/>
<rect x="699" y="580" width="1" height="9"/>
<rect x="707" y="580" width="1" height="9"/>
<rect x="715" y="579" width="1" height="10"/>
<rect x="723" y="577" width="1" height="12"/>
<rect x="731" y="577" width="1" height="12"/>
<rect x="739" y="577" width="1" height="12"/>
<rect x="747" y="578" width="1" height="11"/>
<rect x="755" y="578" width="1" height="11"/>
<rect x="763" y="578" width="1" height="11"/>
<rect x="771" y="578" width="1" height="11"/>
<rect x="779" y="573" width="1" height="16"/>
<rect x="787" y="570" width="1" height="19"/>
<rect x="795" y="569" width="1" height="20"/>
<rect x="803" y="567" width="1" height="22"/>
<rect x="811" y="564" width="1" height="25"/>
<rect x="819" y="561" width="1" height="28"/>
<rect x="827" y="559" width="1" height="30"/>
<rect x="835" y="558" width="1" height="31"/>
<rect x="843" y="555" width="1" height="34"/>
<rect x="851" y="554" width="1" height="35"/>
<rect x="859" y="554" width="1" height="35"/>
<rect x="867" y="555" width="1" height="34"/>
<rect x="875" y="556" width="1" height="33"/>
<rect x="883" y="556" width="1" height="33"/>
<rect x="891" y="555" width="1" height="34"/>
<rect x="899" y="554" width="1" height="35"/>
<rect x="907" y="557" width="1" height="32"/>
<rect x="915" y="559" width="1" height="30"/>
<rect x="923" y="563" width="1" height="26"/>
<rect x="931" y="567" width="1" height="22"/>
<rect x="939" y="570" width="1" height="19"/>
<rect x="947" y="573" width="1" height="16"/>
<rect x="955" y="575" width="1" height="14"/>
<rect x="963" y="579" width="1" height="10"/>
<rect x="971" y="583" width="1" height="6"/>
<rect x="979" y="587" width="1" height="2"/>
<rect x="987" y="588" width="1" height="1"/>
<rect x="995" y="588" width="1" height="1"/>
<rect x="1003" y="589" width="1" height="1"/>
<rect x="1011" y="589" width="1" height="3"/>
<rect x="1019" y="589" width="1" height="4"/>
<rect x="1027" y="589" width="1" height="3"/>
<rect x="1035" y="589" width="1" height="2"/>
<rect x="1043" y="589" width="1" height="1"/>
<rect x="1051" y="589" width="1" height="1"/>
<rect x="1059" y="589" width="1" height="1"/>
<rect x="1075" y="587" width="1" height="2"/>
<rect x="1083" y="584" width="1" height="5"/>
<rect x="1091" y="582" width="1" height="7"/>
<rect x="1099" y="580" width="1" height="9"/>
<rect x="1107" y="577" width="1" height="12"/>
<rect x="1115" y="574" width="1" height="15"/>
<rect x="1123" y="570" width="1" height="19"/>
<rect x="1131" y="567" width="1" height="22"/>
<rect x="1139" y="565" width="1" height="24"/>
<rect x="1147" y="564" width="1" height="25"/>
<rect x="1155" y="563" width="1" height="26"/>
<rect x="1163" y="562" width="1" height="27"/>
<rect x="1171" y="560" width="1" height="29"/>
<rect x="1179" y="557" width="1" height="32"/>
<rect x="1187" y="555" width="1" height="34"/>
<rect x="1195" y="554" width="1" height="35"/>
<rect x="1203" y="554" width="1" height="35"/>
<rect x="1211" y="553" width="1" height="36"/>
<rect x="1219" y="553" width="1" height="36"/>
<rect x="1227" y="556" width="1" height="33"/>
<rect x="1235" y="556" width="1" height="33"/>
<rect x="1243" y="557" width="1" height="32"/>
<rect x="1251" y="558" width="1" height="31"/>
<rect x="1259" y="558" width="1" height="31"/>
<rect x="1267" y="559" width="1" height="30"/>
<rect x="1275" y="561" width="1" height="28"/>
<rect x="1283" y="563" width="1" height="26"/>
<rect x="1291" y="565" width="1" height="24"/>
<rect x="1299" y="566" width="1" height="23"/>
<rect x="1307" y="568" width="1" height="21"/>
</g>
<polyline class="ce" points="3.0,578.4 20.0,577.0 27.0,575.6 60.0,574.0 70.0,573.0 76.0,571.6 92.0,570.0 100.0,568.4 112.0,565.6 124.0,563.6 132.0,560.0 140.0,557.6 156.0,555.0 172.0,553.0 190.0,552.6 204.0,554.0 210.0,555.6 230.0,557.0 236.0,558.6 252.0,559.0 258.0,560.6 278.0,562.6 284.0,563.6 300.0,565.0 308.0,566.6 320.0,567.0 332.0,566.0 339.0,564.4 348.0,562.0 356.0,559.6 364.0,556.4 372.0,553.0 380.0,550.4 388.0,547.6 396.0,545.0 404.0,543.6 410.0,542.6 436.0,542.6 442.0,545.0 452.0,547.0 460.0,549.6 468.0,552.6 478.0,556.0 488.0,558.0 496.0,560.4 512.0,562.0 524.0,562.6 576.0,562.6 588.0,564.0 598.0,566.0 616.0,569.0 636.0,571.0 644.0,572.4 660.0,574.0 676.0,574.4 696.0,574.4 700.0,575.4 722.0,576.4 742.0,576.6 752.0,577.4 772.0,577.4 780.0,576.4 790.0,575.4 796.0,574.4 808.0,572.6 820.0,570.0 832.0,566.4 844.0,563.6 852.0,561.0 862.0,559.0 872.0,556.6 880.0,555.4 892.0,555.2 900.0,554.4 912.0,554.4 922.0,556.0 930.0,557.6 942.0,559.6 952.0,562.4 964.0,565.4 976.0,571.0 988.0,575.4 1000.0,580.4 1010.0,583.0 1011.0,584.4 1018.0,586.4 1028.0,588.0 1044.0,590.0 1052.0,591.4 1076.0,591.4 1084.0,590.4 1092.0,589.0 1100.0,587.0 1108.0,585.6 1116.0,583.0 1124.0,581.0 1132.0,578.0 1140.0,575.0 1148.0,572.6 1156.0,570.0 1164.0,568.0 1172.0,566.0 1180.0,564.4 1188.0,562.0 1196.0,559.6 1204.0,558.6 1212.0,557.4 1220.0,556.4 1228.0,555.0 1236.0,554.4 1262.0,554.4 1268.0,555.6 1284.0,557.4 1292.0,558.4 1302.0,559.4 1307.0,561.4" fill="none" stroke="#ff0000" stroke-width="1" stroke-dasharray="3 3"/>
<g class="ce">
<line x1="4" y1="637.5" x2="1658" y2="637.5" stroke="#c0c0c0" stroke-width="1" stroke-dasharray="4 4"/>
<line x1="4" y1="688.5" x2="1658" y2="688.5" stroke="#c0c0c0" stroke-width="1" stroke-dasharray="4 4"/>
</g>
<polyline class="ce" points="3.5,647.4 11.5,650.0 19.5,652.0 27.5,660.6 35.5,657.4 43.5,657.4 51.5,656.4 59.5,640.4 67.5,645.0 75.5,646.4 83.5,642.6 91.5,642.4 99.5,641.4 107.5,639.4 115.5,633.6 123.5,633.4 131.5,632.4 139.5,634.0 147.5,634.4 155.5,643.4 163.5,640.4 171.5,641.4 179.5,641.4 187.5,647.4 195.5,645.6 203.5,642.6 211.5,654.4 219.5,639.4 227.5,637.4 235.5,639.4 243.5,637.4 251.5,655.0 259.5,665.4 267.5,658.4 275.5,660.6 283.5,653.4 291.5,654.4 299.5,657.4 307.5,641.4 315.5,638.4 323.5,639.4 331.5,637.4 339.5,636.4 347.5,635.0 355.5,631.4 363.5,631.4 371.5,633.4 379.5,630.4 387.5,630.4 395.5,633.4 403.5,633.4 411.5,649.4 419.5,645.4 427.5,651.0 435.5,654.4 443.5,652.4 451.5,652.4 459.5,654.4 467.5,651.4 475.5,650.4 483.5,654.4 491.5,639.4 499.5,639.0 507.5,634.4 515.5,647.4 523.5,646.4 531.5,655.4 539.5,653.4 547.5,651.4 555.5,653.4 563.5,651.0 571.5,645.4 579.5,648.6 587.5,657.0 595.5,661.4 603.5,661.4 611.5,659.4 619.5,653.6 627.5,654.4 635.5,658.0 643.5,649.4 651.5,651.0 659.5,641.4 667.5,660.4 675.5,657.4 683.5,662.0 691.5,660.4 699.5,666.0 707.5,655.4 715.5,654.4 723.5,652.4 731.5,657.0 739.5,656.4 747.5,655.4 755.5,659.0 763.5,655.4 771.5,649.4 779.5,642.6 787.5,644.4 795.5,648.0 803.5,643.4 811.5,638.6 819.5,637.4 827.5,642.4 835.5,640.0 843.5,635.4 851.5,636.6 859.5,647.0 867.5,643.4 875.5,647.4 883.5,644.6 891.5,642.6 899.5,638.4 907.5,658.0 915.5,653.6 923.5,662.4 931.5,662.4 939.5,662.4 947.5,663.4 955.5,657.4 963.5,669.4 971.5,671.4 979.5,670.4 987.5,670.4 995.5,663.4 1003.5,671.4 1011.5,664.6 1019.5,669.0 1027.5,663.4 1035.5,663.4 1043.5,662.4 1051.5,667.0 1059.5,662.0 1067.5,658.0 1075.5,651.4 1083.5,651.4 1091.5,652.4 1099.5,652.4 1107.5,643.4 1115.5,643.4 1123.5,640.6 1131.5,639.4 1139.5,639.4 1147.5,643.0 1155.5,639.4 1163.5,638.0 1171.5,633.4 1179.5,631.4 1187.5,630.4 1195.5,631.4 1203.5,634.4 1211.5,629.4 1219.5,644.4 1227.5,643.4 1235.5,644.4 1243.5,641.4 1251.5,641.0 1259.5,639.4 1267.5,638.4 1275.5,650.4 1283.5,652.4 1291.5,648.6 1299.5,648.6 1307.5,655.6" fill="none" stroke="#1e90ff" stroke-width="1" />
<g class="ce">
<rect x="6" y="63" width="68" height="28" fill="url(#gtab)"/>
<rect x="221" y="63" width="68" height="28" fill="url(#gtab)"/>
<rect x="6" y="90" width="141" height="49" fill="url(#gbig)"/>
<rect x="149" y="90" width="140" height="49" fill="url(#gbig)"/>
<rect x="6" y="63" width="68" height="1" fill="#000" fill-opacity="0.22"/><rect x="6" y="64" width="1" height="75" fill="#000" fill-opacity="0.12"/>
<rect x="221" y="63" width="68" height="1" fill="#000" fill-opacity="0.22"/><rect x="288" y="64" width="1" height="75" fill="#000" fill-opacity="0.22"/>
<rect x="10" y="89" width="60" height="1" fill="#b01010"/><rect x="10" y="90" width="60" height="1" fill="#f06a6a"/>
<rect x="225" y="89" width="60" height="1" fill="#b01010"/><rect x="225" y="90" width="60" height="1" fill="#f06a6a"/>
<rect x="76" y="63" width="143" height="25" fill="#ffffff" stroke="none"/>
<rect x="76" y="63" width="143" height="1" fill="#a9aab5"/><rect x="76" y="87" width="143" height="1" fill="#c5c6cf"/>
<rect x="76" y="63" width="1" height="25" fill="#a9aab5"/><rect x="218" y="63" width="1" height="25" fill="#a9aab5"/>
<rect x="77" y="64" width="23" height="23" fill="url(#gspin)"/><rect x="100" y="64" width="1" height="23" fill="#b8b9c4"/>
<rect x="195" y="64" width="23" height="23" fill="url(#gspin)"/><rect x="194" y="64" width="1" height="23" fill="#b8b9c4"/>
</g>
<path d="M85 74.5 L92.5 74.5 L88.75 78.5 Z" fill="#5f70c4"/>
<path d="M203 78 L210.5 78 L206.75 74 Z" fill="#5f70c4"/>
<text x="23.2" y="81.2" text-anchor="start" style="font-family:'Liberation Sans', sans-serif;font-size:13.8px;font-weight:normal" fill="#fff" textLength="32.8" lengthAdjust="spacingAndGlyphs">SELL</text>
<text x="240.0" y="81.2" text-anchor="start" style="font-family:'Liberation Sans', sans-serif;font-size:13.8px;font-weight:normal" fill="#fff" textLength="29.2" lengthAdjust="spacingAndGlyphs">BUY</text>
<text x="160.4" y="80.4" text-anchor="start" style="font-family:'Liberation Sans', sans-serif;font-size:14.2px;font-weight:normal" fill="#000" textLength="30.2" lengthAdjust="spacingAndGlyphs">1.00</text>
<text x="27.4" y="127.6" text-anchor="start" style="font-family:'Liberation Sans', sans-serif;font-size:14.3px;font-weight:bold" fill="#fff" textLength="35.2" lengthAdjust="spacingAndGlyphs">3143</text>
<text x="169.2" y="127.6" text-anchor="start" style="font-family:'Liberation Sans', sans-serif;font-size:14.3px;font-weight:bold" fill="#fff" textLength="35.8" lengthAdjust="spacingAndGlyphs">3144</text>
<text x="67.5" y="127.5" text-anchor="start" style="font-family:'Liberation Sans', sans-serif;font-size:42.2px;font-weight:normal" fill="#fff" textLength="43.0" lengthAdjust="spacingAndGlyphs">23</text>
<text x="209.5" y="127.5" text-anchor="start" style="font-family:'Liberation Sans', sans-serif;font-size:42.2px;font-weight:normal" fill="#fff" textLength="43.5" lengthAdjust="spacingAndGlyphs">01</text>
<text x="115.8" y="109.0" text-anchor="start" style="font-family:'Liberation Sans', sans-serif;font-size:14px;font-weight:bold" fill="#fff" textLength="8.6" lengthAdjust="spacingAndGlyphs">5</text>
<text x="258.9" y="109.0" text-anchor="start" style="font-family:'Liberation Sans', sans-serif;font-size:14px;font-weight:bold" fill="#fff" textLength="8.6" lengthAdjust="spacingAndGlyphs">5</text>
<path d="M6 53 L15 53 L10.5 48 Z" fill="#000"/>
<text x="21.0" y="54.8" text-anchor="start" style="font-family:'Liberation Sans', sans-serif;font-size:12.3px;font-weight:normal" fill="#000" textLength="58.0" lengthAdjust="spacingAndGlyphs">SP500-,H4</text>
<text x="86.8" y="54.8" text-anchor="start" style="font-family:'Liberation Sans', sans-serif;font-size:12.3px;font-weight:normal" fill="#000" textLength="52.2" lengthAdjust="spacingAndGlyphs">3147.000</text>
<text x="143.8" y="54.8" text-anchor="start" style="font-family:'Liberation Sans', sans-serif;font-size:12.3px;font-weight:normal" fill="#000" textLength="52.4" lengthAdjust="spacingAndGlyphs">3147.250</text>
<text x="201.1" y="54.8" text-anchor="start" style="font-family:'Liberation Sans', sans-serif;font-size:12.3px;font-weight:normal" fill="#000" textLength="52.2" lengthAdjust="spacingAndGlyphs">3139.500</text>
<text x="257.8" y="54.8" text-anchor="start" style="font-family:'Liberation Sans', sans-serif;font-size:12.3px;font-weight:normal" fill="#000" textLength="52.6" lengthAdjust="spacingAndGlyphs">3143.250</text>
<text x="7.4" y="550.8" text-anchor="start" style="font-family:'Liberation Sans', sans-serif;font-size:12.3px;font-weight:normal" fill="#000" textLength="170.6" lengthAdjust="spacingAndGlyphs">MACD(12,26,9) 5.3964 7.1755</text>
<text x="7.4" y="613.6" text-anchor="start" style="font-family:'Liberation Sans', sans-serif;font-size:12.3px;font-weight:normal" fill="#000" textLength="91.6" lengthAdjust="spacingAndGlyphs">RSI(14) 55.2078</text>
<text x="339.5" y="184" style="font-family:'Liberation Sans', 'Noto Sans CJK SC', sans-serif;font-size:51.5px" fill="#ff1e10"><tspan textLength="252" lengthAdjust="spacing">多空转折点</tspan></text>
<text x="590.5" y="181.2" style="font-family:'Liberation Sans', sans-serif;font-size:52px" fill="#ff1e10" textLength="115" lengthAdjust="spacingAndGlyphs">3150</text>
<g class="ce" fill="#000">
<rect x="1659" y="73" width="1" height="1"/>
<rect x="1659" y="122" width="1" height="1"/>
<rect x="1659" y="171" width="1" height="1"/>
<rect x="1659" y="220" width="1" height="1"/>
<rect x="1659" y="269" width="1" height="1"/>
<rect x="1659" y="318" width="1" height="1"/>
<rect x="1659" y="367" width="1" height="1"/>
<rect x="1659" y="416" width="1" height="1"/>
<rect x="1659" y="465" width="1" height="1"/>
<rect x="1659" y="514" width="1" height="1"/>
<rect x="1659" y="537" width="1" height="1"/>
<rect x="1659" y="589" width="1" height="1"/>
<rect x="1659" y="595" width="1" height="1"/>
<rect x="1659" y="600" width="1" height="1"/>
<rect x="1659" y="637" width="1" height="1"/>
<rect x="1659" y="688" width="1" height="1"/>
</g>
<text x="1665.0" y="77.7" text-anchor="start" style="font-family:'Liberation Sans', sans-serif;font-size:12.3px;font-weight:normal" fill="#000" textLength="52.6" lengthAdjust="spacingAndGlyphs">3151.600</text>
<text x="1665.0" y="126.7" text-anchor="start" style="font-family:'Liberation Sans', sans-serif;font-size:12.3px;font-weight:normal" fill="#000" textLength="52.6" lengthAdjust="spacingAndGlyphs">3134.680</text>
<text x="1665.0" y="175.7" text-anchor="start" style="font-family:'Liberation Sans', sans-serif;font-size:12.3px;font-weight:normal" fill="#000" textLength="52.6" lengthAdjust="spacingAndGlyphs">3118.020</text>
<text x="1665.0" y="224.7" text-anchor="start" style="font-family:'Liberation Sans', sans-serif;font-size:12.3px;font-weight:normal" fill="#000" textLength="52.6" lengthAdjust="spacingAndGlyphs">3101.360</text>
<text x="1665.0" y="273.7" text-anchor="start" style="font-family:'Liberation Sans', sans-serif;font-size:12.3px;font-weight:normal" fill="#000" textLength="52.6" lengthAdjust="spacingAndGlyphs">3084.700</text>
<text x="1665.0" y="322.7" text-anchor="start" style="font-family:'Liberation Sans', sans-serif;font-size:12.3px;font-weight:normal" fill="#000" textLength="52.6" lengthAdjust="spacingAndGlyphs">3067.700</text>
<text x="1665.0" y="371.7" text-anchor="start" style="font-family:'Liberation Sans', sans-serif;font-size:12.3px;font-weight:normal" fill="#000" textLength="52.6" lengthAdjust="spacingAndGlyphs">3051.040</text>
<text x="1665.0" y="420.7" text-anchor="start" style="font-family:'Liberation Sans', sans-serif;font-size:12.3px;font-weight:normal" fill="#000" textLength="52.6" lengthAdjust="spacingAndGlyphs">3034.380</text>
<text x="1665.0" y="469.7" text-anchor="start" style="font-family:'Liberation Sans', sans-serif;font-size:12.3px;font-weight:normal" fill="#000" textLength="52.6" lengthAdjust="spacingAndGlyphs">3017.720</text>
<text x="1665.0" y="518.7" text-anchor="start" style="font-family:'Liberation Sans', sans-serif;font-size:12.3px;font-weight:normal" fill="#000" textLength="52.6" lengthAdjust="spacingAndGlyphs">3001.060</text>
<g class="ce">
<rect x="1660" y="72" width="63" height="14" fill="#00ff7f"/>
<rect x="1660" y="90" width="63" height="14" fill="#000000"/>
<rect x="1660" y="218" width="63" height="14" fill="#0000ff"/>
<rect x="1660" y="335" width="63" height="14" fill="#0000ff"/>
<rect x="1660" y="437" width="63" height="14" fill="#0000ff"/>
</g>
<text x="1665.0" y="83.6" text-anchor="start" style="font-family:'Liberation Sans', sans-serif;font-size:12.3px;font-weight:normal" fill="#fff" textLength="52.6" lengthAdjust="spacingAndGlyphs">3150.000</text>
<text x="1665.0" y="101.8" text-anchor="start" style="font-family:'Liberation Sans', sans-serif;font-size:12.3px;font-weight:normal" fill="#fff" textLength="52.6" lengthAdjust="spacingAndGlyphs">3143.250</text>
<text x="1665.0" y="229.6" text-anchor="start" style="font-family:'Liberation Sans', sans-serif;font-size:12.3px;font-weight:normal" fill="#fff" textLength="52.6" lengthAdjust="spacingAndGlyphs">3100.000</text>
<text x="1665.0" y="346.6" text-anchor="start" style="font-family:'Liberation Sans', sans-serif;font-size:12.3px;font-weight:normal" fill="#fff" textLength="52.6" lengthAdjust="spacingAndGlyphs">3060.000</text>
<text x="1665.0" y="448.6" text-anchor="start" style="font-family:'Liberation Sans', sans-serif;font-size:12.3px;font-weight:normal" fill="#fff" textLength="52.6" lengthAdjust="spacingAndGlyphs">3025.000</text>
<text x="1662.0" y="549.0" text-anchor="start" style="font-family:'Liberation Sans', sans-serif;font-size:12.3px;font-weight:normal" fill="#000" textLength="46.0" lengthAdjust="spacingAndGlyphs">13.5938</text>
<text x="1662.0" y="593.3" text-anchor="start" style="font-family:'Liberation Sans', sans-serif;font-size:12.3px;font-weight:normal" fill="#000" textLength="25.0" lengthAdjust="spacingAndGlyphs">0.00</text>
<text x="1662.0" y="593.3" text-anchor="start" style="font-family:'Liberation Sans', sans-serif;font-size:12.3px;font-weight:normal" fill="#000" textLength="43.0" lengthAdjust="spacingAndGlyphs">-2.0421</text>
<text x="1662.0" y="612.2" text-anchor="start" style="font-family:'Liberation Sans', sans-serif;font-size:12.3px;font-weight:normal" fill="#000" textLength="20.0" lengthAdjust="spacingAndGlyphs">100</text>
<text x="1662.0" y="642.0" text-anchor="start" style="font-family:'Liberation Sans', sans-serif;font-size:12.3px;font-weight:normal" fill="#000" textLength="13.2" lengthAdjust="spacingAndGlyphs">70</text>
<text x="1662.0" y="693.0" text-anchor="start" style="font-family:'Liberation Sans', sans-serif;font-size:12.3px;font-weight:normal" fill="#000" textLength="13.2" lengthAdjust="spacingAndGlyphs">30</text>
<text x="1662.0" y="723.0" text-anchor="start" style="font-family:'Liberation Sans', sans-serif;font-size:12.3px;font-weight:normal" fill="#000" textLength="6.4" lengthAdjust="spacingAndGlyphs">0</text>
<g class="ce" fill="#000">
<rect x="3" y="727" width="1" height="3"/>
<rect x="99" y="727" width="1" height="3"/>
<rect x="195" y="727" width="1" height="3"/>
<rect x="291" y="727" width="1" height="3"/>
<rect x="387" y="727" width="1" height="3"/>
<rect x="483" y="727" width="1" height="3"/>
<rect x="579" y="727" width="1" height="3"/>
<rect x="675" y="727" width="1" height="3"/>
<rect x="771" y="727" width="1" height="3"/>
<rect x="867" y="727" width="1" height="3"/>
<rect x="963" y="727" width="1" height="3"/>
<rect x="1059" y="727" width="1" height="3"/>
<rect x="1155" y="727" width="1" height="3"/>
<rect x="1251" y="727" width="1" height="3"/>
</g>
<text x="2.2" y="742.0" text-anchor="start" style="font-family:'Liberation Sans', sans-serif;font-size:12.6px;font-weight:normal" fill="#000" textLength="70.0" lengthAdjust="spacingAndGlyphs">24 Oct 2019</text>
<text x="98.2" y="742.0" text-anchor="start" style="font-family:'Liberation Sans', sans-serif;font-size:12.6px;font-weight:normal" fill="#000" textLength="74.0" lengthAdjust="spacingAndGlyphs">28 Oct 04:00</text>
<text x="194.2" y="742.0" text-anchor="start" style="font-family:'Liberation Sans', sans-serif;font-size:12.6px;font-weight:normal" fill="#000" textLength="74.0" lengthAdjust="spacingAndGlyphs">30 Oct 04:00</text>
<text x="290.2" y="742.0" text-anchor="start" style="font-family:'Liberation Sans', sans-serif;font-size:12.6px;font-weight:normal" fill="#000" textLength="67.5" lengthAdjust="spacingAndGlyphs">1 Nov 04:00</text>
<text x="386.2" y="742.0" text-anchor="start" style="font-family:'Liberation Sans', sans-serif;font-size:12.6px;font-weight:normal" fill="#000" textLength="67.5" lengthAdjust="spacingAndGlyphs">5 Nov 00:00</text>
<text x="482.2" y="742.0" text-anchor="start" style="font-family:'Liberation Sans', sans-serif;font-size:12.6px;font-weight:normal" fill="#000" textLength="67.5" lengthAdjust="spacingAndGlyphs">7 Nov 00:00</text>
<text x="578.2" y="742.0" text-anchor="start" style="font-family:'Liberation Sans', sans-serif;font-size:12.6px;font-weight:normal" fill="#000" textLength="74.3" lengthAdjust="spacingAndGlyphs">10 Nov 23:00</text>
<text x="674.2" y="742.0" text-anchor="start" style="font-family:'Liberation Sans', sans-serif;font-size:12.6px;font-weight:normal" fill="#000" textLength="74.3" lengthAdjust="spacingAndGlyphs">12 Nov 20:00</text>
<text x="770.2" y="742.0" text-anchor="start" style="font-family:'Liberation Sans', sans-serif;font-size:12.6px;font-weight:normal" fill="#000" textLength="74.3" lengthAdjust="spacingAndGlyphs">14 Nov 20:00</text>
<text x="866.2" y="742.0" text-anchor="start" style="font-family:'Liberation Sans', sans-serif;font-size:12.6px;font-weight:normal" fill="#000" textLength="74.3" lengthAdjust="spacingAndGlyphs">18 Nov 16:00</text>
<text x="962.2" y="742.0" text-anchor="start" style="font-family:'Liberation Sans', sans-serif;font-size:12.6px;font-weight:normal" fill="#000" textLength="74.3" lengthAdjust="spacingAndGlyphs">20 Nov 16:00</text>
<text x="1058.2" y="742.0" text-anchor="start" style="font-family:'Liberation Sans', sans-serif;font-size:12.6px;font-weight:normal" fill="#000" textLength="74.3" lengthAdjust="spacingAndGlyphs">22 Nov 16:00</text>
<text x="1154.2" y="742.0" text-anchor="start" style="font-family:'Liberation Sans', sans-serif;font-size:12.6px;font-weight:normal" fill="#000" textLength="74.3" lengthAdjust="spacingAndGlyphs">26 Nov 12:00</text>
<text x="1250.2" y="742.0" text-anchor="start" style="font-family:'Liberation Sans', sans-serif;font-size:12.6px;font-weight:normal" fill="#000" textLength="74.3" lengthAdjust="spacingAndGlyphs">28 Nov 12:00</text>
</svg></body></html>
